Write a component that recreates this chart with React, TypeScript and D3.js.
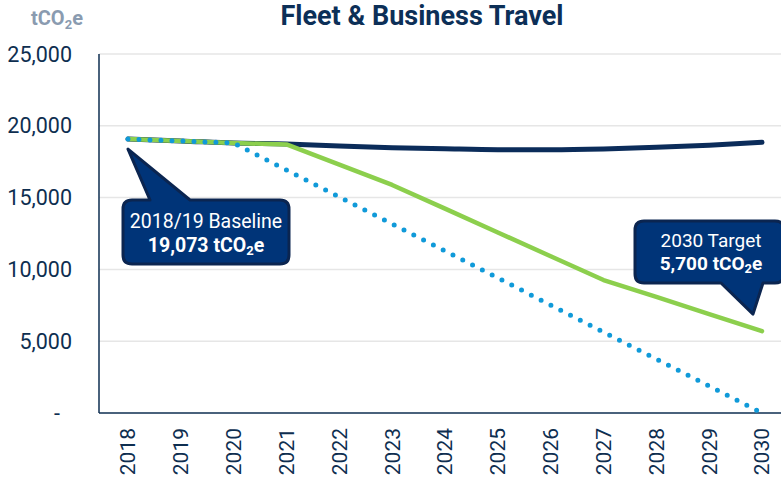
import React from "react";
import * as d3 from "d3";

const years = ["2018","2019","2020","2021","2022","2023","2024","2025","2026","2027","2028","2029","2030"];
const businessAsUsual = [19073, 18950, 18800, 18730, 18600, 18480, 18400, 18340, 18340, 18390, 18500, 18650, 18850];
const target = [19073, 18950, 18800, 18700, 17290, 15880, 14230, 12570, 10920, 9260, 8080, 6890, 5700];
const netZero = [19073, 18940, 18800, 16920, 15040, 13160, 11280, 9400, 7520, 5640, 3760, 1880, 0];
const yTicks = [0, 5000, 10000, 15000, 20000, 25000];

const W = 781, H = 482;
const axisX = 99, axisBottom = 413, plotTop = 54;

export default function App() {
  const x = d3.scalePoint<string>().domain(years).range([128, 762]);
  const y = d3.scaleLinear().domain([0, 25000]).range([axisBottom, plotTop]);
  const line = (vals: number[], curve = d3.curveLinear) =>
    d3.line<number>().x((_, i) => x(years[i]) as number).y((v) => y(v)).curve(curve)(vals) || "";
  const fmt = d3.format(",");
  const font = "Roboto, 'Liberation Sans', Arial, sans-serif";
  const navy = "#0b2c5a";
  const labelCol = "#0e2e50";

  const c1 = { x0: 123, y0: 200, x1: 289, y1: 264, r: 9 };
  const ax1 = x("2018") as number, ay1 = y(businessAsUsual[0]) + 10;
  const c1Path = `M${c1.x0 + c1.r},${c1.y0} L150,${c1.y0} L${ax1},${ay1} L190,${c1.y0} L${c1.x1 - c1.r},${c1.y0} Q${c1.x1},${c1.y0} ${c1.x1},${c1.y0 + c1.r} L${c1.x1},${c1.y1 - c1.r} Q${c1.x1},${c1.y1} ${c1.x1 - c1.r},${c1.y1} L${c1.x0 + c1.r},${c1.y1} Q${c1.x0},${c1.y1} ${c1.x0},${c1.y1 - c1.r} L${c1.x0},${c1.y0 + c1.r} Q${c1.x0},${c1.y0} ${c1.x0 + c1.r},${c1.y0} Z`;

  const c2 = { x0: 635, y0: 221, x1: 784, y1: 283, r: 9 };
  const ax2 = (x("2030") as number) - 9, ay2 = y(target[12]) - 17;
  const c2Path = `M${c2.x0 + c2.r},${c2.y0} L${c2.x1 - c2.r},${c2.y0} Q${c2.x1},${c2.y0} ${c2.x1},${c2.y0 + c2.r} L${c2.x1},${c2.y1 - c2.r} Q${c2.x1},${c2.y1} ${c2.x1 - c2.r},${c2.y1} L763,${c2.y1} L${ax2},${ay2} L721,${c2.y1} L${c2.x0 + c2.r},${c2.y1} Q${c2.x0},${c2.y1} ${c2.x0},${c2.y1 - c2.r} L${c2.x0},${c2.y0 + c2.r} Q${c2.x0},${c2.y0} ${c2.x0 + c2.r},${c2.y0} Z`;

  return (
    <svg width={W} height={H} style={{ position: "absolute", left: 0, top: 0, background: "#fff" }} fontFamily={font}>
      {yTicks.filter((t) => t > 0).map((t) => (
        <line key={t} x1={axisX} x2={W} y1={y(t)} y2={y(t)} stroke="#e6e6e6" strokeWidth={1.5} />
      ))}
      <line x1={axisX} x2={axisX} y1={plotTop} y2={axisBottom} stroke="#0e2e50" strokeWidth={1.5} />
      <line x1={axisX} x2={W} y1={axisBottom} y2={axisBottom} stroke="#0e2e50" strokeWidth={1.5} />
      {yTicks.map((t) => (
        <text key={t} x={t === 0 ? 57 : 72} y={y(t)} dy="0.35em" textAnchor={t === 0 ? "middle" : "end"} fontSize={21.5} fill={labelCol}>
          {t === 0 ? "-" : fmt(t)}
        </text>
      ))}
      {years.map((yr) => (
        <text key={yr} transform={`translate(${x(yr)},${428}) rotate(-90)`} textAnchor="end" dy="0.35em" fontSize={21} fill={labelCol}>
          {yr}
        </text>
      ))}
      <path d={line(businessAsUsual, d3.curveMonotoneX)} fill="none" stroke={navy} strokeWidth={5} strokeLinecap="round" />
      <path d={line(target)} fill="none" stroke="#8ccf4d" strokeWidth={4.5} strokeLinecap="round" strokeLinejoin="round" />
      <path d={line(netZero)} fill="none" stroke="#109ad9" strokeWidth={5} strokeLinecap="round" strokeDasharray="0 11" />
      <path d={c1Path} fill="#003478" stroke="#0b2550" strokeWidth={3} strokeLinejoin="round" />
      <text x={(c1.x0 + c1.x1) / 2} y={228} textAnchor="middle" fontSize={19.5} fill="#fff">2018/19 Baseline</text>
      <text x={(c1.x0 + c1.x1) / 2} y={252} textAnchor="middle" fontSize={19.5} fontWeight="bold" fill="#fff">
        19,073 tCO<tspan fontSize={13} dy={3}>2</tspan><tspan dy={-3}>e</tspan>
      </text>
      <path d={c2Path} fill="#003478" stroke="#0b2550" strokeWidth={3} strokeLinejoin="round" />
      <text x={711} y={247} textAnchor="middle" fontSize={19} fill="#fff">2030 Target</text>
      <text x={711} y={270} textAnchor="middle" fontSize={19} fontWeight="bold" fill="#fff">
        5,700 tCO<tspan fontSize={13} dy={3}>2</tspan><tspan dy={-3}>e</tspan>
      </text>
      <text x={422} y={25} textAnchor="middle" fontSize={27} fontWeight="bold" fill="#0c2f57">Fleet &amp; Business Travel</text>
      <text x={31} y={25} fontSize={20} fontWeight="bold" fill="#8a9bb0">
        tCO<tspan fontSize={13} dy={4}>2</tspan><tspan dy={-4}>e</tspan>
      </text>
    </svg>
  );
}
